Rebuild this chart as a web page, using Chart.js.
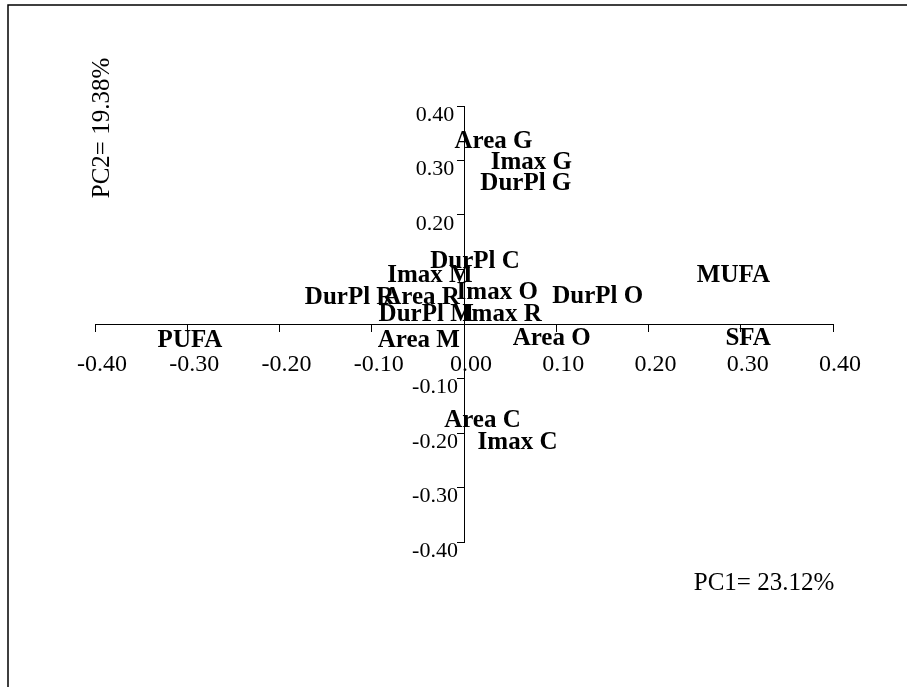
<!DOCTYPE html>
<html>
<head>
<meta charset="utf-8">
<script src="https://cdn.jsdelivr.net/npm/chart.js@4"></script>
<style>
    body { margin: 0; background: #fff; }
    #pcaChart { display: block; }
</style>
</head>
<body>
<canvas id="pcaChart" width="907" height="687"></canvas>
<script>
// loadings
const variables = ["Area G", "Imax G", "DurPl G", "DurPl C", "Imax M", "MUFA", "Imax O", "DurPl O", "DurPl R",
    "Area R", "DurPl M", "Imax R", "Area M", "PUFA", "Area O", "SFA", "Area C", "Imax C"];
const pc1 = [0.032, 0.073, 0.067, 0.012, -0.037, 0.292, 0.036, 0.145, -0.124,
    -0.046, -0.041, 0.041, -0.049, -0.297, 0.095, 0.308, 0.020, 0.058];
const pc2 = [0.334, 0.297, 0.258, 0.115, 0.088, 0.088, 0.058, 0.051, 0.048,
    0.048, 0.018, 0.018, -0.031, -0.031, -0.026, -0.026, -0.178, -0.217];

const xTicks = [-0.4, -0.3, -0.2, -0.1, 0, 0.1, 0.2, 0.3, 0.4];
const yTicks = [-0.4, -0.3, -0.2, -0.1, 0, 0.1, 0.2, 0.3, 0.4];
const xTickLabels = ["-0.40", "-0.30", "-0.20", "-0.10", "0.00", "0.10", "0.20", "0.30", "0.40"];
// 0.00 and 0.10 are not shown on the vertical axis
const yTickLabels = ["-0.40", "-0.30", "-0.20", "-0.10", "", "", "0.20", "0.30", "0.40"];
const xTitle = "PC1= 23.12%";
const yTitle = "PC2= 19.38%";

const serif = '"Liberation Serif", "Times New Roman", serif';

const points = variables.map((name, i) => ({ x: pc1[i], y: pc2[i] }));

// frame, tick labels, axis titles and variable names
const pcaPlugin = {
    id: "pcaPlugin",
    beforeDraw(chart) {
        const ctx = chart.ctx;
        ctx.save();
        ctx.strokeStyle = "#000";
        ctx.lineWidth = 1.5;
        ctx.beginPath();
        ctx.moveTo(8, 687);
        ctx.lineTo(8, 5);
        ctx.lineTo(907, 5);
        ctx.stroke();
        ctx.restore();
    },
    afterDraw(chart) {
        const ctx = chart.ctx;
        const xs = chart.scales.x;
        const ys = chart.scales.y;
        const x0 = xs.getPixelForValue(0);
        const y0 = ys.getPixelForValue(0);
        ctx.save();
        ctx.fillStyle = "#000";
        ctx.textAlign = "center";
        ctx.textBaseline = "middle";
        ctx.font = "24px " + serif;
        xTicks.forEach((v, i) => {
            ctx.fillText(xTickLabels[i], xs.getPixelForValue(v) + 7, y0 + 41);
        });
        ctx.font = "22px " + serif;
        yTicks.forEach((v, i) => {
            if (!yTickLabels[i]) return;
            ctx.fillText(yTickLabels[i], x0 - 29, ys.getPixelForValue(v) + 9);
        });

        ctx.font = "25px " + serif;
        ctx.fillText(xTitle, 764, 583);
        ctx.save();
        ctx.translate(102, 128);
        ctx.rotate(-Math.PI / 2);
        ctx.fillText(yTitle, 0, 0);
        ctx.restore();

        ctx.font = "bold 25px " + serif;
        const meta = chart.getDatasetMeta(0);
        meta.data.forEach((pt, i) => {
            ctx.fillText(variables[i], pt.x, pt.y);
        });
        ctx.restore();
    },
};

const pcaChart = new Chart(document.getElementById("pcaChart"), {
    type: "scatter",
    data: {
        datasets: [
            {
                label: "loadings",
                data: points,
                pointRadius: 0,
                pointHoverRadius: 0,
            },
        ],
    },
    options: {
        responsive: false,
        animation: false,
        events: [],
        layout: {
            padding: { left: 95, right: 74, top: 106, bottom: 145 },
        },
        plugins: {
            legend: { display: false },
            tooltip: { enabled: false },
        },
        scales: {
            x: {
                type: "linear",
                min: -0.4,
                max: 0.4,
                position: { y: 0 },
                afterBuildTicks: (s) => { s.ticks = xTicks.map((v) => ({ value: v })); },
                afterFit: (s) => { s.height = 0; },
                grid: { drawOnChartArea: false, drawTicks: true, tickLength: 7, tickColor: "#000", tickWidth: 1 },
                border: { display: true, color: "#000", width: 1 },
                ticks: { display: false },
            },
            y: {
                type: "linear",
                min: -0.4,
                max: 0.4,
                position: { x: 0 },
                afterBuildTicks: (s) => { s.ticks = yTicks.map((v) => ({ value: v })); },
                afterFit: (s) => { s.width = 0; },
                grid: { drawOnChartArea: false, drawTicks: true, tickLength: 7, tickColor: "#000", tickWidth: 1 },
                border: { display: true, color: "#000", width: 1 },
                ticks: { display: false },
            },
        },
    },
    plugins: [pcaPlugin],
});
</script>
</body>
</html>
